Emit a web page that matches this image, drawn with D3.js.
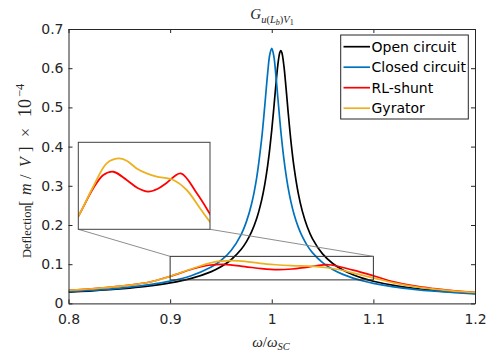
<!DOCTYPE html>
<html><head><meta charset="utf-8">
<script src="https://cdn.jsdelivr.net/npm/d3@7"></script>
<style>
body{margin:0;background:#fff;}
svg{display:block;}
.tick text{font-family:"DejaVu Sans",sans-serif;font-size:14px;fill:#262626;}
.serif{font-family:"Liberation Serif","DejaVu Serif",serif;fill:#262626;}
</style></head>
<body>
<div id="chart"></div>
<script>
// ---- data ----
const omegaSharp = [0.80,0.82,0.84,0.86,0.88,0.90,0.92,0.94,0.95,0.96,0.97,0.975,0.98,0.985,0.99,0.993,0.996,0.998,1.000,1.002,1.004,1.006,1.008,1.009,1.010,1.012,1.014,1.016,1.019,1.022,1.026,1.03,1.035,1.04,1.05,1.06,1.07,1.08,1.09,1.10,1.12,1.14,1.16,1.18,1.20];
const openCircuit = [0.0288,0.0315,0.0348,0.0391,0.0446,0.0522,0.0632,0.0805,0.0934,0.1114,0.1381,0.1570,0.1816,0.2152,0.2629,0.3018,0.3520,0.3934,0.4420,0.4973,0.5558,0.6085,0.6407,0.6446,0.6395,0.6051,0.5511,0.4918,0.4110,0.3462,0.2820,0.2360,0.1949,0.1654,0.1263,0.1018,0.0851,0.0729,0.0637,0.0565,0.0460,0.0386,0.0332,0.0291,0.0258];
const closedCircuit = [0.0300,0.0329,0.0366,0.0414,0.0478,0.0567,0.0700,0.0920,0.1094,0.1350,0.1763,0.2079,0.2523,0.3179,0.4184,0.5001,0.5882,0.6337,0.6506,0.6313,0.5838,0.5246,0.4656,0.4382,0.4126,0.3672,0.3289,0.2967,0.2576,0.2269,0.1951,0.1707,0.1474,0.1295,0.1039,0.0865,0.0740,0.0645,0.0572,0.0512,0.0423,0.0360,0.0312,0.0275,0.0245];
const omegaRL = [0.80,0.82,0.84,0.86,0.88,0.90,0.9228,0.938,0.953,0.9735,0.99,1.006,1.02,1.034,1.0555,1.08,1.10,1.12,1.14,1.16,1.18,1.20];
const rlShunt = [0.0335,0.0368,0.0410,0.0465,0.0545,0.0690,0.0883,0.0974,0.0997,0.0940,0.0885,0.0860,0.0878,0.0920,0.0986,0.0848,0.0705,0.0550,0.0445,0.0375,0.0320,0.0285];
const omegaGy = [0.80,0.82,0.84,0.86,0.88,0.90,0.9228,0.9431,0.9608,0.9735,0.9886,1.0038,1.019,1.0443,1.0646,1.0848,1.10,1.12,1.14,1.16,1.18,1.20];
const gyrator = [0.0335,0.0368,0.0410,0.0465,0.0545,0.0690,0.0895,0.1055,0.1089,0.1073,0.1020,0.0986,0.0963,0.0940,0.0871,0.0745,0.0650,0.0525,0.0430,0.0365,0.0315,0.0280];
const xTicks = [0.8,0.9,1.0,1.1,1.2];
const xTickLabels = ["0.8","0.9","1","1.1","1.2"];
const yTicks = [0,0.1,0.2,0.3,0.4,0.5,0.6,0.7];
const yTickLabels = ["0","0.1","0.2","0.3","0.4","0.5","0.6","0.7"];
const seriesNames = ["Open circuit","Closed circuit","RL-shunt","Gyrator"];
const seriesColors = ["#000000","#0072BD","#FF0000","#EDB120"];
const zoomX = [0.9,1.1];
const zoomY = [0.06,0.12];

// ---- layout ----
const W=496,H=361;
const L=68.5,R=475,T=29,B=303.4;
const svg=d3.select("#chart").append("svg").attr("width",W).attr("height",H);
const x=d3.scaleLinear().domain([0.8,1.2]).range([L,R]);
const y=d3.scaleLinear().domain([0,0.7]).range([B,T]);
const axisColor="#262626";

const series=[
  {name:seriesNames[0],xs:omegaSharp,ys:openCircuit,color:seriesColors[0]},
  {name:seriesNames[1],xs:omegaSharp,ys:closedCircuit,color:seriesColors[1]},
  {name:seriesNames[2],xs:omegaRL,ys:rlShunt,color:seriesColors[2]},
  {name:seriesNames[3],xs:omegaGy,ys:gyrator,color:seriesColors[3]}
];

svg.append("clipPath").attr("id","mainclip").append("rect").attr("x",L).attr("y",T).attr("width",R-L).attr("height",B-T);
const lineMain=d3.line().x(d=>x(d[0])).y(d=>y(d[1])).curve(d3.curveCatmullRom.alpha(0.5));
const gLines=svg.append("g").attr("clip-path","url(#mainclip)");
series.forEach(s=>{
  gLines.append("path").datum(s.xs.map((v,i)=>[v,s.ys[i]]))
    .attr("d",lineMain).attr("fill","none").attr("stroke",s.color).attr("stroke-width",1.7);
});

// axes
function styleAxis(g){g.select(".domain").attr("stroke",axisColor);g.selectAll(".tick line").attr("stroke",axisColor);}
svg.append("g").attr("transform",`translate(0,${B})`)
  .call(d3.axisBottom(x).tickValues(xTicks).tickFormat((d,i)=>xTickLabels[i]).tickSizeInner(-4).tickSizeOuter(0).tickPadding(11)).call(styleAxis);
svg.append("g").attr("transform",`translate(0,${T})`)
  .call(d3.axisTop(x).tickValues(xTicks).tickFormat("").tickSizeInner(-4).tickSizeOuter(0)).call(styleAxis);
svg.append("g").attr("transform",`translate(${L},0)`)
  .call(d3.axisLeft(y).tickValues(yTicks).tickFormat((d,i)=>yTickLabels[i]).tickSizeInner(-4).tickSizeOuter(0).tickPadding(5)).call(styleAxis);
svg.append("g").attr("transform",`translate(${R},0)`)
  .call(d3.axisRight(y).tickValues(yTicks).tickFormat("").tickSizeInner(-4).tickSizeOuter(0)).call(styleAxis);
svg.selectAll(".tick text").attr("fill",axisColor);

// zoom rectangle in main axes
const zr={x0:x(zoomX[0]),x1:x(zoomX[1]),y0:y(zoomY[1]),y1:y(zoomY[0])};
svg.append("rect").attr("x",zr.x0).attr("y",zr.y0).attr("width",zr.x1-zr.x0).attr("height",zr.y1-zr.y0)
  .attr("fill","none").attr("stroke","#303030").attr("stroke-width",1);

// inset
const IL=78.3,IR=210,IT=142.3,IB=229.3;
svg.append("line").attr("x1",IL).attr("y1",IB).attr("x2",zr.x0).attr("y2",zr.y0).attr("stroke","#808080").attr("stroke-width",0.9);
svg.append("line").attr("x1",IR).attr("y1",IB).attr("x2",zr.x1).attr("y2",zr.y0).attr("stroke","#808080").attr("stroke-width",0.9);
svg.append("rect").attr("x",IL).attr("y",IT).attr("width",IR-IL).attr("height",IB-IT).attr("fill","#fff");
const xi=d3.scaleLinear().domain(zoomX).range([IL,IR]);
const yi=d3.scaleLinear().domain(zoomY).range([IB,IT]);
svg.append("clipPath").attr("id","insetclip").append("rect").attr("x",IL).attr("y",IT).attr("width",IR-IL).attr("height",IB-IT);
const lineInset=d3.line().x(d=>xi(d[0])).y(d=>yi(d[1])).curve(d3.curveCatmullRom.alpha(0.5));
const gIn=svg.append("g").attr("clip-path","url(#insetclip)");
series.slice(2).forEach(s=>{
  gIn.append("path").datum(s.xs.map((v,i)=>[v,s.ys[i]]))
    .attr("d",lineInset).attr("fill","none").attr("stroke",s.color).attr("stroke-width",1.8);
});
svg.append("rect").attr("x",IL).attr("y",IT).attr("width",IR-IL).attr("height",IB-IT)
  .attr("fill","none").attr("stroke","#404040").attr("stroke-width",1);

// legend
const lg=svg.append("g");
lg.append("rect").attr("x",340.7).attr("y",35).attr("width",127.6).attr("height",84)
  .attr("fill","#fff").attr("stroke",axisColor).attr("stroke-width",1);
series.forEach((s,i)=>{
  const yy=46.7+i*20.5;
  lg.append("line").attr("x1",343.5).attr("x2",370).attr("y1",yy).attr("y2",yy).attr("stroke",s.color).attr("stroke-width",1.7);
  lg.append("text").attr("x",371.5).attr("y",yy).attr("dy","0.36em")
    .style("font-family","DejaVu Sans, sans-serif").style("font-size","14px").attr("fill","#000").text(s.name);
});

// title
const title=svg.append("text").attr("class","serif").attr("x",272).attr("y",19).attr("text-anchor","middle").style("font-size","15px");
title.append("tspan").style("font-style","italic").text("G");
title.append("tspan").attr("dy",4).style("font-size","10.5px").style("font-style","italic").text("u");
title.append("tspan").style("font-size","10.5px").text("(");
title.append("tspan").style("font-size","10.5px").style("font-style","italic").text("L");
title.append("tspan").attr("dy",2).style("font-size","8px").style("font-style","italic").text("b");
title.append("tspan").attr("dy",-2).style("font-size","10.5px").text(")");
title.append("tspan").style("font-size","10.5px").style("font-style","italic").text("V");
title.append("tspan").attr("dy",2).style("font-size","8px").text("1");

// x label
const xl=svg.append("text").attr("class","serif").attr("x",271).attr("y",347).attr("text-anchor","middle").style("font-size","15px");
xl.append("tspan").style("font-style","italic").text("ω");
xl.append("tspan").text("/");
xl.append("tspan").style("font-style","italic").text("ω");
xl.append("tspan").attr("dy",3).style("font-size","10.5px").style("font-style","italic").text("SC");

// y label (rotated; pieces laid out along the axis like LaTeX math spacing)
const ylg=svg.append("g").attr("class","serif").attr("transform","translate(31,0) rotate(-90)");
const yPieces=[
  {t:"Deflection",u:258,fs:12.5,it:false},
  {t:"[",u:206,fs:16,it:false},
  {t:"m",u:195,fs:16,it:true},
  {t:"/",u:179,fs:16,it:false},
  {t:"V",u:167,fs:16,it:true},
  {t:"]",u:152,fs:16,it:false},
  {t:"×",u:137,fs:16,it:false},
  {t:"10",u:117,fs:18,it:false},
  {t:"−4",u:97,fs:12.5,it:false,sup:true}
];
yPieces.forEach(p=>{
  ylg.append("text").attr("x",-p.u).attr("y",p.sup?-7:0)
    .style("font-size",p.fs+"px").style("font-style",p.it?"italic":"normal").text(p.t);
});
</script>
</body></html>
